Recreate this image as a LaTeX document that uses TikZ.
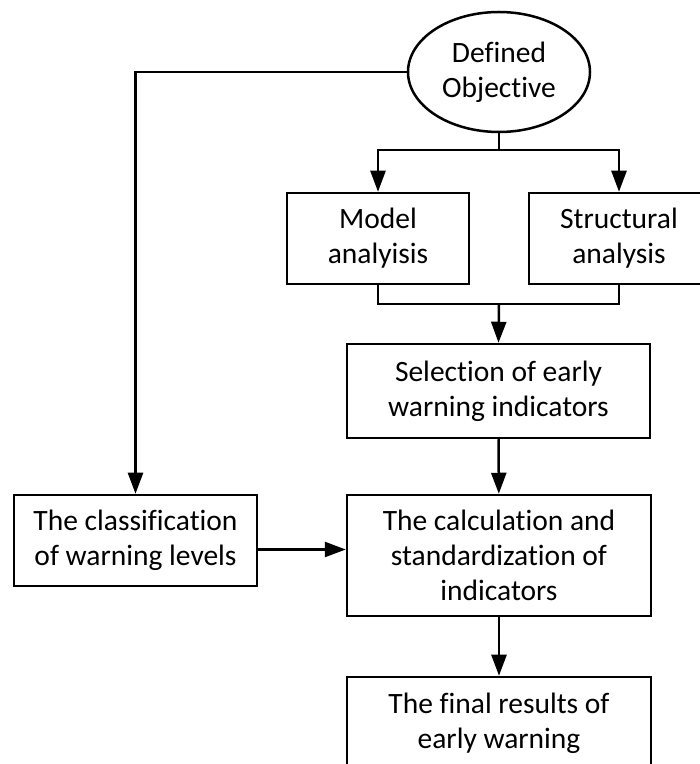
\documentclass[tikz,border=0pt]{standalone}
\usepackage{fontspec}
\setmainfont{Carlito}[Ligatures=NoCommon]
\usepackage{tikz}
\usetikzlibrary{arrows.meta,positioning,shapes.geometric}
\tikzset{
  ewbox/.style={draw=black, line width=2.5pt, fill=white, align=center, inner sep=4pt},
  ewoval/.style={draw=black, line width=2.5pt, ellipse, fill=white, align=center, inner sep=0pt, minimum width=182pt, minimum height=120pt},
  ewline/.style={line width=2.5pt, draw=black},
  ewarr/.style={-{Triangle[length=21pt,width=15pt]}, line width=2.5pt, draw=black}
}

\begin{document}
\begin{tikzpicture}[x=1pt, y=1pt, font=\fontsize{29.5}{35}\selectfont]
  \useasboundingbox (0,0) rectangle (700,764);

  \node[ewoval] (obj) at (499,692) {Defined\\Objective};
  \node[ewbox, minimum width=182pt, minimum height=91pt] (model) at (378,525.5) {Model\\analyisis};
  \node[ewbox, minimum width=180pt, minimum height=91pt] (struct) at (619,525.5) {Structural\\analysis};
  \node[ewbox, minimum width=303pt, minimum height=94pt] (select) at (498.5,373) {Selection of early\\warning indicators};
  \node[ewbox, minimum width=304pt, minimum height=121pt] (calc) at (499,208.5) {The calculation and\\standardization of\\indicators};
  \node[ewbox, minimum width=243pt, minimum height=91pt] (classif) at (135.5,223.5) {The classification\\of warning levels};
  \node[ewbox, minimum width=304pt, minimum height=92pt] (final) at (499,41) {The final results of\\early warning};

  \coordinate (split) at (499,614);
  \coordinate (merge) at (499,460);

  % objective to the two analyses
  \draw[ewline] (obj.south) -- (split);
  \draw[ewarr] (split) -| (model.north);
  \draw[ewarr] (split) -| (struct.north);

  % analyses to selection
  \draw[ewline] (model.south) |- (merge);
  \draw[ewline] (struct.south) |- (merge);
  \draw[ewarr] (merge) -- (select.north);

  \draw[ewarr] (select) -- (calc);
  \draw[ewarr] (calc) -- (final);

  % left branch
  \draw[ewarr] (obj.west) -| (classif.north);
  \draw[ewarr] ([yshift=-9pt]classif.east) -- ([yshift=-9pt]classif.east -| calc.west);
\end{tikzpicture}
\end{document}
